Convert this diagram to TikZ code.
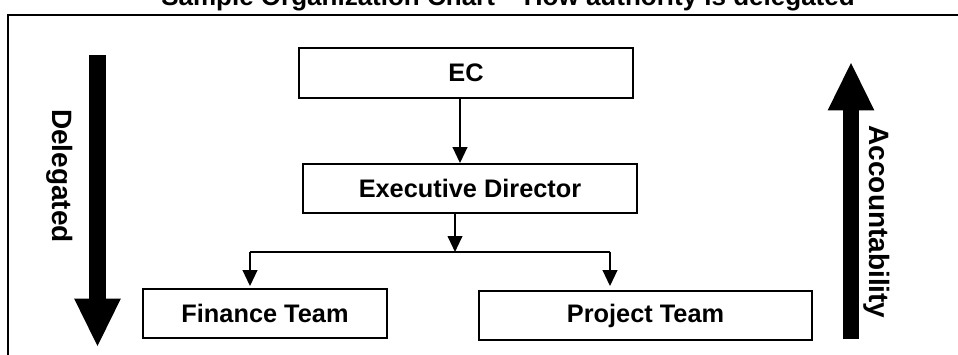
\documentclass[tikz,border=0pt]{standalone}
\usepackage{fontspec}
\setmainfont{Liberation Sans}
\usetikzlibrary{arrows.meta}
\begin{document}
\begin{tikzpicture}[x=0.75pt,y=-0.75pt,
    box/.style={draw,line width=1.4pt,inner sep=0pt,minimum height=36.75pt,
      font=\fontsize{19}{22}\selectfont\bfseries},
    link/.style={line width=1.5pt,-{Triangle[width=11pt,length=12pt]}},
    bigarrow/.style={line width=12.5pt,-{Triangle[width=35pt,length=35.5pt,line width=0pt]}},
    side/.style={rotate=-90,inner sep=0pt,font=\fontsize{21}{24}\selectfont\bfseries}]
  \useasboundingbox (0,0) rectangle (958,354);
  \node[anchor=base,font=\fontsize{19.5}{22}\selectfont\bfseries] (title) at (508,5)
    {Sample Organization Chart – How authority is delegated};
  \draw[line width=1.3pt] (8,380) -- (8,15) -- (990,15);
  \node[box,minimum width=250.5pt,minimum height=37.5pt] (ec) at (466,73) {EC};
  \node[box,minimum width=250.5pt] (ed) at (470,188.5) {Executive Director};
  \node[box,minimum width=183pt] (fin) at (265,313.5) {Finance Team};
  \node[box,minimum width=249.75pt] (proj) at (645.5,315.5) {Project Team};
  \coordinate (split) at (455,252);
  \coordinate (l) at (250,252);
  \coordinate (r) at (610,252);
  \draw[link] (ec.south -| 460,0) -- (ed.north -| 460,0);
  \draw[link] (ed.south -| split) -- (split);
  \draw[line width=1.5pt] (l) -- (r);
  \draw[link,shorten >=1.5pt] (l) -- (l |- fin.north);
  \draw[link,shorten >=3pt] (r) -- (r |- proj.north);
  \draw[bigarrow] (97.5,55) -- (97.5,346);
  \draw[bigarrow] (851,339) -- (851,63);
  \node[side] (down) at (60,176) {Delegated};
  \node[side] (up) at (876.5,222) {Accountability};
\end{tikzpicture}
\end{document}
